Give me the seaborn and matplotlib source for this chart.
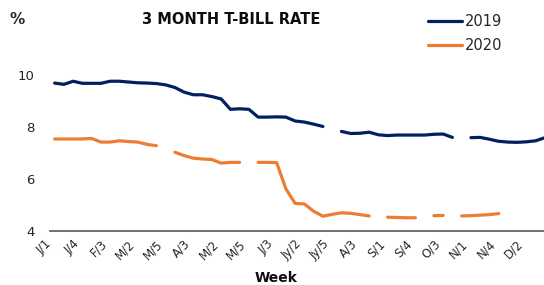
import numpy as np
import pandas as pd
import matplotlib
matplotlib.use('Agg')
import matplotlib.pyplot as plt
import matplotlib.transforms as mtransforms
import seaborn as sns

# Monatskürzel und Anzahl Wochen pro Monat (für die Achsenbeschriftung)
months = ['J', 'F', 'M', 'A', 'M', 'J', 'Jy', 'A', 'S', 'O', 'N', 'D']
weeks_in_month = [4, 4, 5, 4, 5, 4, 5, 5, 4, 5, 5, 4]

# 3-Monats T-Bill Rate (%), wöchentlich; NaN = fehlender Wert
rate_2019 = [9.69, 9.64, 9.76, 9.68, 9.68, 9.68, 9.76, 9.76, 9.73, 9.70,
             9.69, 9.67, 9.62, 9.52, 9.34, 9.24, 9.24, 9.17, 9.08, 8.68,
             8.70, 8.68, 8.38, 8.38, 8.39, 8.38, 8.23, 8.19, 8.11, 8.02,
             np.nan, 7.83, 7.75, 7.76, 7.80, 7.70, 7.67, 7.69, 7.69, 7.69,
             7.69, 7.72, 7.73, 7.60, np.nan, 7.59, 7.60, 7.53, 7.45, 7.42,
             7.41, 7.43, 7.47, 7.59]
rate_2020 = [7.54, 7.54, 7.54, 7.54, 7.56, 7.42, 7.42, 7.47, 7.44, 7.42,
             7.33, 7.28, np.nan, 7.03, 6.90, 6.80, 6.77, 6.75, 6.61, 6.64,
             6.64, np.nan, 6.64, 6.64, 6.63, 5.62, 5.06, 5.04, 4.76, 4.57,
             4.64, 4.70, 4.68, 4.63, 4.58, np.nan, 4.53, 4.52, 4.51, 4.51,
             np.nan, 4.59, 4.60, np.nan, 4.58, 4.59, 4.61, 4.63, 4.67, np.nan,
             np.nan, np.nan, np.nan, np.nan]

years = ['2019', '2020']
colors = {'2019': '#002060', '2020': '#ED7D31'}

# Wochenlabels wie "J/1", "F/3", ...
week_labels = [f'{m}/{i + 1}' for m, n in zip(months, weeks_in_month) for i in range(n)]

# Long-Format; jede zusammenhängende Strecke bekommt eine eigene ID (Lücken bleiben sichtbar)
frames = []
for year, vals in zip(years, [rate_2019, rate_2020]):
    s = pd.Series(vals, dtype=float)
    seg = s.isna().cumsum()
    frames.append(pd.DataFrame({'week': np.arange(len(s)), 'rate': s,
                                'Jahr': year, 'seg': year + '_' + seg.astype(str)}))
df = pd.concat(frames).dropna(subset=['rate'])

sns.set_style('white')
plt.rcParams['font.family'] = ['DejaVu Sans']

fig = plt.figure(figsize=(5.44, 2.85), dpi=100)
ax = fig.add_axes([50 / 544, 54 / 285, 1 - 50 / 544, 156 / 285])

sns.lineplot(data=df, x='week', y='rate', hue='Jahr', units='seg', estimator=None,
             palette=colors, linewidth=2.3, ax=ax, legend=True)
for line in ax.get_lines():
    line.set_solid_capstyle('round')

ax.set_xlim(-0.5, 52.9)
ax.set_ylim(4, 10)
ax.set_yticks([4, 6, 8, 10])
ax.tick_params(axis='y', length=0, pad=11, labelsize=9.5, labelcolor='#262626')

tick_pos = list(range(0, 52, 3))
ax.set_xticks(tick_pos)
ax.set_xticklabels([week_labels[i] for i in tick_pos], rotation=45, ha='right',
                   va='center', rotation_mode='anchor', fontsize=8.5, color='#262626')
ax.tick_params(axis='x', length=0, pad=8)
offset = mtransforms.ScaledTranslation(-5 / 100, 0, fig.dpi_scale_trans)
for lbl in ax.get_xticklabels():
    lbl.set_transform(lbl.get_transform() + offset)

ax.set_xlabel('')
ax.set_ylabel('')
for side in ['top', 'right', 'left']:
    ax.spines[side].set_visible(False)
ax.spines['bottom'].set_color('#666666')
ax.spines['bottom'].set_linewidth(1.3)

handles, labels = ax.get_legend_handles_labels()
leg = ax.legend(handles, labels, loc='upper left', bbox_to_anchor=(428 / 544, 1 - 14 / 285),
                bbox_transform=fig.transFigure, frameon=False, fontsize=10.5,
                handlelength=2.3, handletextpad=0.2, labelspacing=0.65,
                borderpad=0, borderaxespad=0)
for t in leg.get_texts():
    t.set_color('#262626')

fig.text(231 / 544, 1 - 20 / 285, '3 MONTH T-BILL RATE', ha='center', va='center',
         fontsize=10.5, fontweight='bold', color='#0d0d0d')
fig.text(10 / 544, 1 - 19 / 285, '%', ha='left', va='center', fontsize=11,
         fontweight='bold', color='#262626')
fig.text(276 / 544, 1 - 278 / 285, 'Week', ha='center', va='center', fontsize=10,
         fontweight='bold', color='#0d0d0d')

fig.savefig('out.png', dpi=100)
